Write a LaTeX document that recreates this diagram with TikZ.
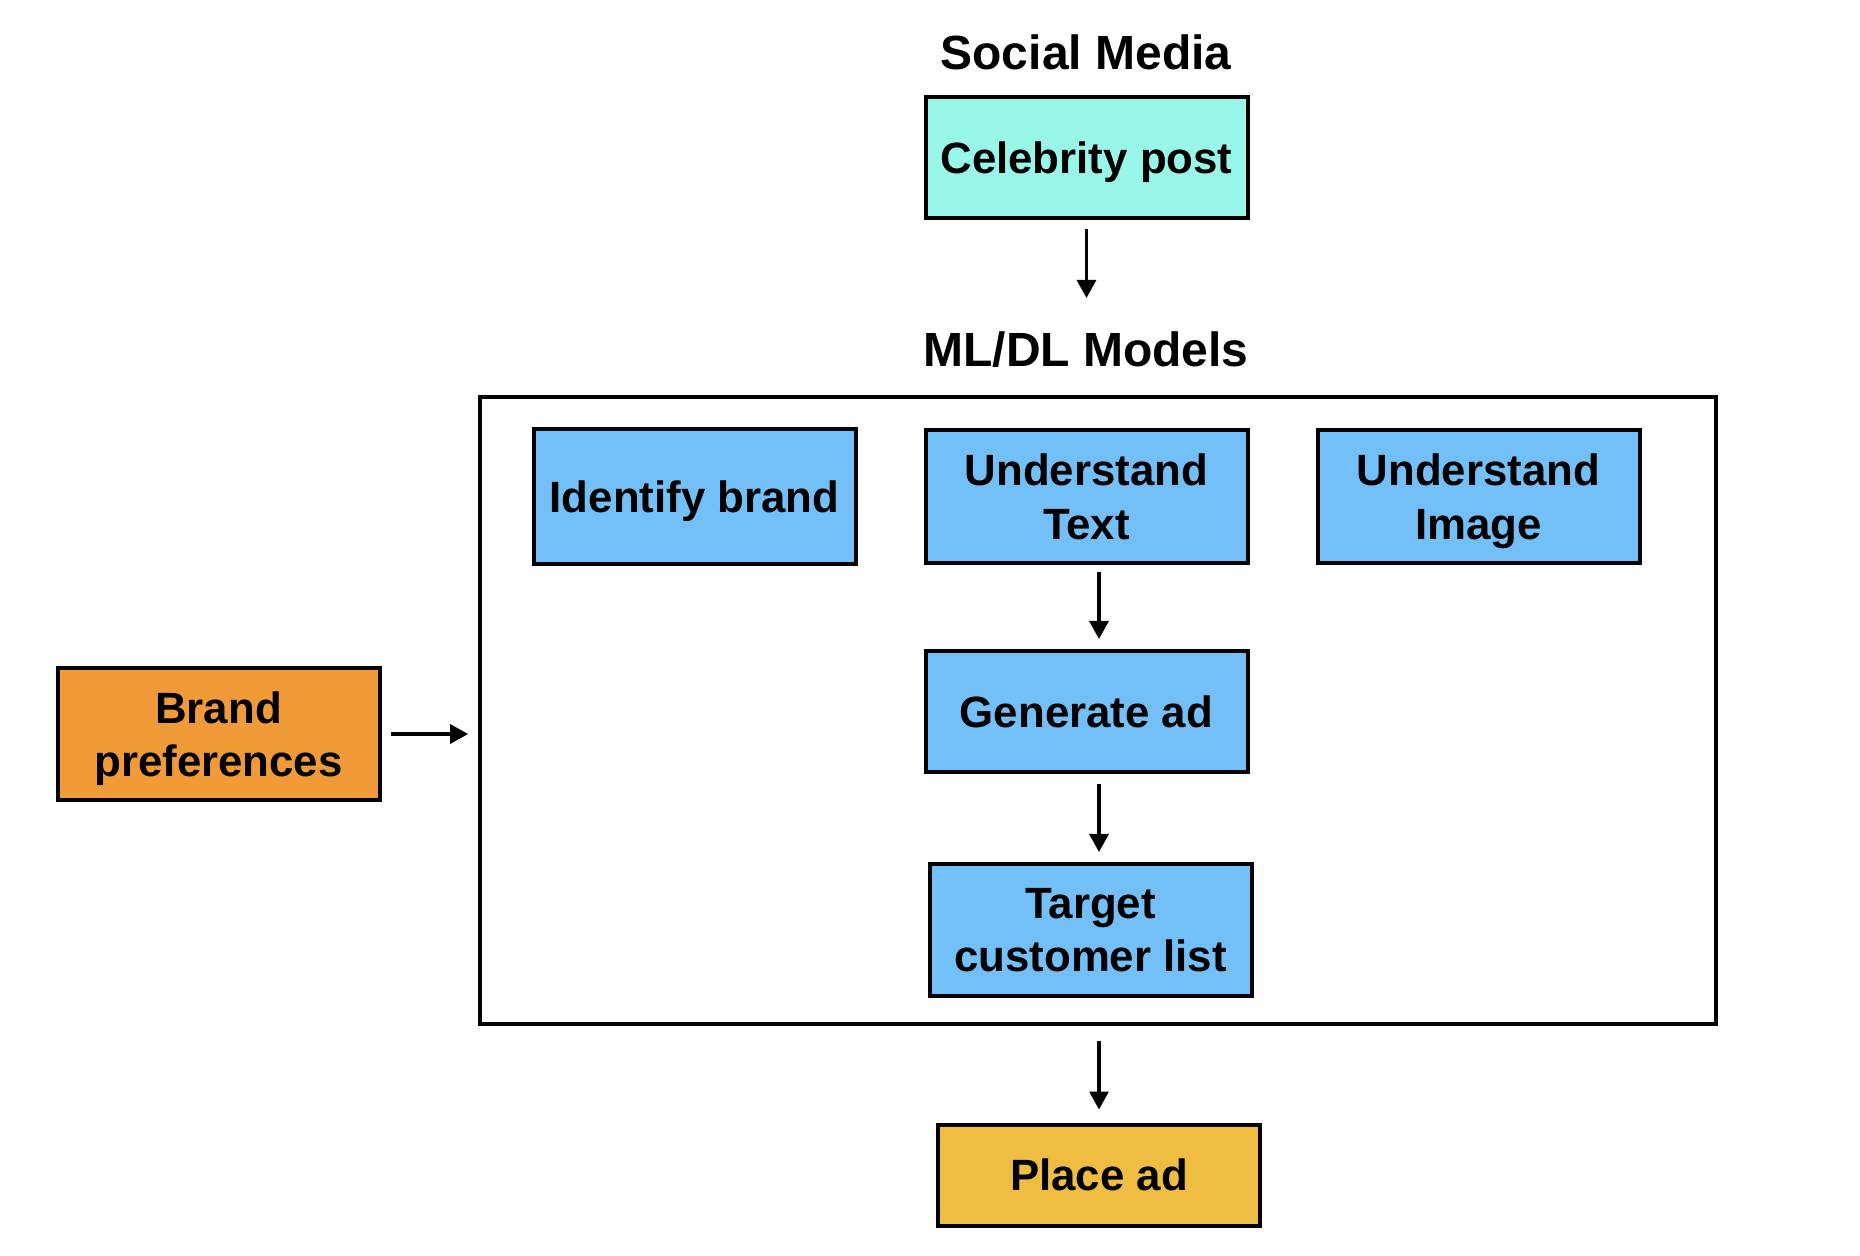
\documentclass[tikz,border=0pt]{standalone}
\usepackage{fontspec}
\setmainfont{Liberation Sans}
\usetikzlibrary{arrows.meta}
\definecolor{postcol}{RGB}{152,247,232}
\definecolor{modelcol}{RGB}{115,191,247}
\definecolor{brandcol}{RGB}{240,154,56}
\definecolor{placecol}{RGB}{239,189,65}

\begin{document}
\begin{tikzpicture}[x=0.5pt,y=-0.5pt,
  box/.style={draw=black,line width=2pt,minimum width=161pt,align=center,inner sep=0pt,text depth=0pt,font=\fontsize{21.9}{26.7}\selectfont\bfseries},
  title/.style={font=\fontsize{24}{29}\selectfont\bfseries},
  arr/.style={-{Triangle[length=9pt,width=9.5pt]},line width=1.6pt}]
 \useasboundingbox (0,0) rectangle (1860,1256);
 \node[title] (social) at (1086,52) {Social Media};
 \node[box,fill=postcol,minimum height=60.5pt] (post) at (1086.5,157.5) {Celebrity post};
 \coordinate (mlin) at (1086.5,298);
 \node[title] (mltitle) at (1086,350) {ML/DL Models};
 \node[draw=black,line width=1.8pt,minimum width=618pt,minimum height=313.5pt] (models) at (1098,710.5) {};
  \node[box,fill=modelcol,minimum height=67.5pt] (brand) at (694.5,496.5) {Identify brand};
  \node[box,fill=modelcol,minimum height=66.5pt] (text) at (1086.5,496.5) {Understand\\Text};
  \node[box,fill=modelcol,minimum height=66.5pt] (image) at (1478.5,496.5) {Understand\\Image};
  \node[box,fill=modelcol,minimum height=60.5pt] (gen) at (1086.5,711.5) {Generate ad};
  \node[box,fill=modelcol,minimum height=66pt] (target) at (1090.5,930) {Target\\customer list};
 \node[box,fill=brandcol,minimum height=66pt] (pref) at (218.5,734) {Brand\\preferences};
 \node[box,fill=placecol,minimum height=50.5pt] (place) at (1099,1175) {Place ad};
 \draw[arr] ([yshift=-4.5pt]post.south) -- (mlin);
 \draw[arr] ([xshift=6.25pt,yshift=-3.5pt]text.south) -- ([xshift=6.25pt,yshift=5pt]gen.north);
 \draw[arr] ([xshift=6.25pt,yshift=-5pt]gen.south) -- ([xshift=4.25pt,yshift=5pt]target.north);
 \draw[arr] ([xshift=0.5pt,yshift=-7.5pt]models.south) -- ([yshift=6.5pt]place.north);
 \draw[arr] ([xshift=4.5pt]pref.east) -- ([xshift=-5pt,yshift=-11.75pt]models.west);
\end{tikzpicture}
\end{document}
